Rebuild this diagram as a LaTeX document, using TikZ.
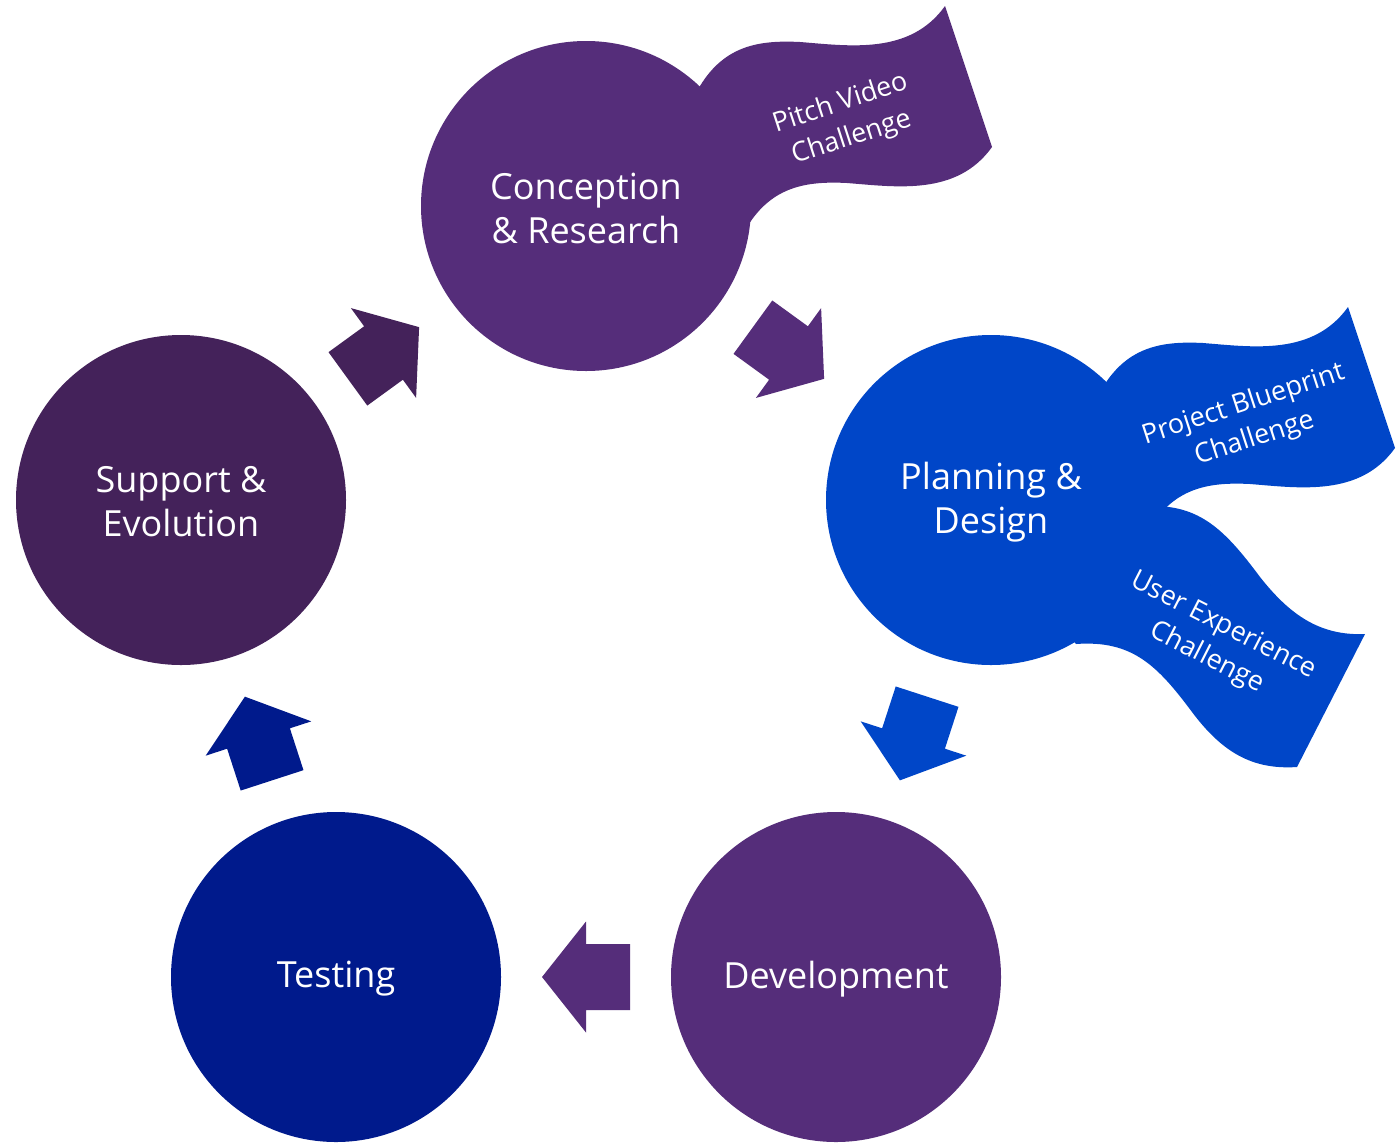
\documentclass[tikz,border=0pt]{standalone}
\usepackage{fontspec}
\setmainfont{Open Sans}
\usetikzlibrary{calc}
\definecolor{cpurple}{RGB}{85,45,122}
\definecolor{pblue}{RGB}{0,70,200}
\definecolor{tnavy}{RGB}{0,26,140}
\definecolor{sdark}{RGB}{68,34,90}
\begin{document}
\begin{tikzpicture}[x=0.5pt,y=-0.5pt,
  stage/.style={circle, inner sep=0pt, minimum size=165pt},
  stagetext/.style={text=white, font=\fontsize{18}{22}\selectfont, align=center, yshift=-1pt},
  flagtext/.style={text=white, font=\fontsize{13.5}{18}\selectfont, align=center, inner sep=0pt},
  blockarrow/.pic={\fill[#1] (-44,-33) -- (0,-33) -- (0,-55.5) -- (44,0) -- (0,55.5) -- (0,33) -- (-44,33) -- cycle;}
]
\fill[white] (0,0) rectangle (1400,1146);
\useasboundingbox (0,0) rectangle (1400,1146);

% wave flags (drawn behind the circles)
\fill[cpurple] (690,110) -- (700,86) .. controls (725,45) and (760,40) .. (800,42)
  .. controls (850,46) and (910,55) .. (945,6) -- (992,147)
  .. controls (957,196) and (897,187) .. (847,183)
  .. controls (807,181) and (772,186) .. (747,227) -- (700,250) -- cycle;
\fill[pblue, shift={(403,301)}] (690,110) -- (700,86) .. controls (725,45) and (760,40) .. (800,42)
  .. controls (850,46) and (910,55) .. (945,6) -- (992,147)
  .. controls (957,196) and (897,187) .. (847,183)
  .. controls (807,181) and (772,186) .. (747,227) -- (700,250) -- cycle;
\fill[pblue] (1100,520) -- (1150,506) .. controls (1200,505) and (1225,530) .. (1260,577)
  .. controls (1290,615) and (1320,636) .. (1365,634) -- (1297,767)
  .. controls (1252,770) and (1222,752) .. (1192,712)
  .. controls (1157,665) and (1132,640) .. (1076,644) -- (1040,600) -- cycle;

% stages
\node[stage, fill=cpurple, label={[stagetext]center:Conception\\\& Research}] (con) at (586,206) {};
\node[stage, fill=pblue, label={[stagetext]center:Planning \&\\Design}] (pla) at (991,500) {};
\node[stage, fill=cpurple, label={[stagetext]center:Development}] (dev) at (836,977) {};
\node[stage, fill=tnavy, label={[stagetext]center:Testing}] (tes) at (336,977) {};
\node[stage, fill=sdark, label={[stagetext]center:Support \&\\Evolution}] (sup) at (181,500) {};

% flag labels
\node[flagtext, rotate=18] (pv) at (846,121) {Pitch Video\\Challenge};
\node[flagtext, rotate=18] (pb) at (1249,422) {Project Blueprint\\Challenge};
\node[flagtext, rotate=-27] (ux) at (1215,642) {User Experience\\Challenge};

% block arrows between stages
\path let \p1=($(con.center)-(sup.center)$), \n1={atan2(\y1,\x1)} in
  ($(sup.center)!0.5!(con.center)$) pic[rotate=\n1] {blockarrow=sdark};
\path let \p1=($(pla.center)-(con.center)$), \n1={atan2(\y1,\x1)} in
  ($(con.center)!0.5!(pla.center)$) pic[rotate=\n1] {blockarrow=cpurple};
\path let \p1=($(dev.center)-(pla.center)$), \n1={atan2(\y1,\x1)} in
  ($(pla.center)!0.5!(dev.center)$) pic[rotate=\n1] {blockarrow=pblue};
\path let \p1=($(tes.center)-(dev.center)$), \n1={atan2(\y1,\x1)} in
  ($(dev.center)!0.5!(tes.center)$) pic[rotate=\n1] {blockarrow=cpurple};
\path let \p1=($(sup.center)-(tes.center)$), \n1={atan2(\y1,\x1)} in
  ($(tes.center)!0.5!(sup.center)$) pic[rotate=\n1] {blockarrow=tnavy};
\end{tikzpicture}
\end{document}
